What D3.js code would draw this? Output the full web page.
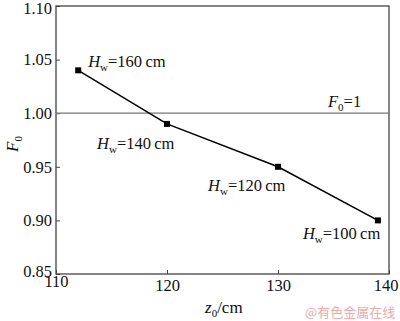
<!DOCTYPE html>
<html><head><meta charset="utf-8">
<script src="https://cdn.jsdelivr.net/npm/d3@7"></script>
<style>
html,body{margin:0;padding:0;background:#fff;}
</style></head>
<body>
<script>
const z0 = [112, 120, 130, 139];
const F0 = [1.04, 0.99, 0.95, 0.90];
const pointLabels = ["160", "140", "120", "100"];
const xTicks = [110, 120, 130, 140];
const yTicks = [0.85, 0.90, 0.95, 1.00, 1.05, 1.10];
const refValue = 1;

const SERIF = "'Liberation Serif', 'Times New Roman', serif";
const W = 400, H = 321;
const m = {left: 56, right: 11, top: 6, bottom: 47};
const svg = d3.select("body").append("svg").attr("width", W).attr("height", H)
  .attr("font-family", SERIF);
const x = d3.scaleLinear().domain([110, 140]).range([m.left, W - m.right]);
const y = d3.scaleLinear().domain([0.85, 1.10]).range([H - m.bottom, m.top]);
const axisColor = "#444";

svg.append("rect").attr("x", x(110)).attr("y", y(1.10))
  .attr("width", x(140) - x(110)).attr("height", y(0.85) - y(1.10))
  .attr("fill", "none").attr("stroke", axisColor).attr("stroke-width", 1.3);

const xa = svg.append("g").attr("transform", `translate(0,${y(0.85)})`)
  .call(d3.axisBottom(x).tickValues(xTicks).tickSize(-4).tickPadding(5).tickFormat(d3.format("d")));
const ya = svg.append("g").attr("transform", `translate(${x(110)},0)`)
  .call(d3.axisLeft(y).tickValues(yTicks).tickSize(-4).tickPadding(4).tickFormat(d3.format(".2f")));
[xa, ya].forEach(g => {
  g.attr("font-family", SERIF).attr("font-size", 16.5);
  g.select(".domain").remove();
  g.selectAll("line").attr("stroke", axisColor);
  g.selectAll("text").attr("fill", "#111");
});
xa.selectAll("text").filter(d => d === 110).attr("dy", "0.5em");
xa.selectAll("text").filter(d => d === 140).attr("dx", "-0.2em");
ya.selectAll("text").filter(d => d === 0.85).attr("dy", "0.15em");
ya.selectAll("text").filter(d => d === 1.10).attr("dy", "0.45em");

svg.append("line").attr("x1", x(110)).attr("x2", x(140))
  .attr("y1", y(refValue)).attr("y2", y(refValue))
  .attr("stroke", "#777").attr("stroke-width", 1.3);

const pts = z0.map((v, i) => [v, F0[i]]);
svg.append("path").datum(pts)
  .attr("d", d3.line().x(d => x(d[0])).y(d => y(d[1])))
  .attr("fill", "none").attr("stroke", "#000").attr("stroke-width", 1.5);
svg.selectAll("rect.pt").data(pts).enter().append("rect").attr("class", "pt")
  .attr("x", d => x(d[0]) - 3).attr("y", d => y(d[1]) - 3)
  .attr("width", 6).attr("height", 6).attr("fill", "#000");

function label(sel, xx, yy, main, sub, rest, size) {
  const t = sel.append("text").attr("x", xx).attr("y", yy)
    .attr("font-family", SERIF).attr("font-size", size).attr("fill", "#111");
  t.append("tspan").attr("font-style", "italic").text(main);
  t.append("tspan").attr("dy", 4).attr("font-size", 11).text(sub);
  t.append("tspan").attr("dy", -4).text(rest);
  return t;
}

const offs = [[10, -3], [-70, 25], [-70, 24], [-75, 19]];
pts.forEach((d, i) => {
  label(svg, x(d[0]) + offs[i][0], y(d[1]) + offs[i][1], "H", "w", "=" + pointLabels[i] + "\u2009cm", 16.5);
});

label(svg, 328, y(refValue) - 6, "F", "0", "=1", 16.5);
label(svg, 205, 313, "z", "0", "/cm", 17);
label(svg, 0, 0, "F", "0", "", 17).attr("transform", "translate(18,152) rotate(-90)");

svg.append("text").attr("x", 305).attr("y", 317)
  .attr("font-family", "Noto Sans CJK SC").attr("font-size", 13)
  .attr("fill", "#f2a9a9").text("@有色金属在线");
</script>
</body></html>
